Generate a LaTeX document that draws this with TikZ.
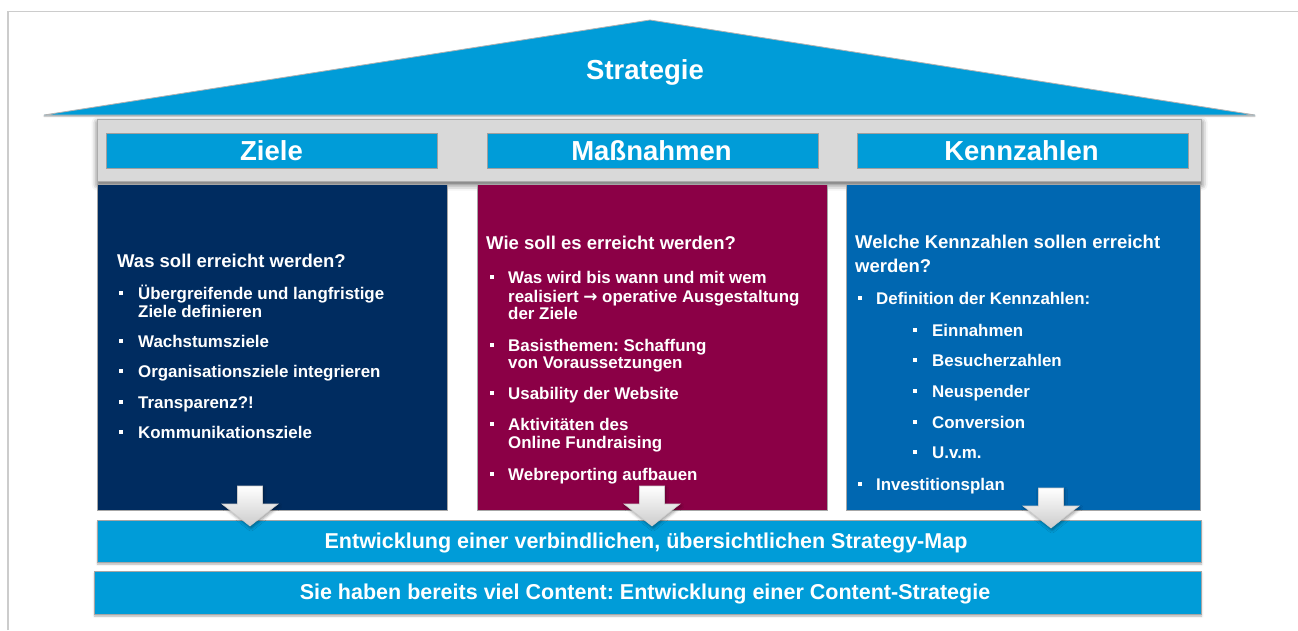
\documentclass[tikz,border=0pt]{standalone}
\usepackage{fontspec}
\setmainfont{Liberation Sans}
\newfontfamily\arrfont{DejaVu Sans}
\usetikzlibrary{shadows.blur}
\frenchspacing
\definecolor{lblue}{RGB}{0,156,216}
\definecolor{navy}{RGB}{0,44,96}
\definecolor{berry}{RGB}{139,0,70}
\definecolor{mblue}{RGB}{0,103,177}
\definecolor{barg}{RGB}{217,217,217}
\newcommand\bitem[5]{%
  \node[bsq] (#1-b) at (#2,#4-6) {};
  \node[txt] (#1) at (#3,#4) {#5};}
\newcommand\tline[4]{\node[txt] (#1) at (#2,#3) {#4};}
\newcommand\hdline[4]{\node[txt,hdr] (#1) at (#2,#3) {#4};}
\newcommand\blockarrow[3]{%
  \coordinate (#1) at (#2,#3);
  \path[arr] (#2-12.5,#3) -- (#2+12.5,#3) -- (#2+12.5,#3+18) -- (#2+28,#3+18)
    -- (#2,#3+40) -- (#2-28,#3+18) -- (#2-12.5,#3+18) -- cycle;}
\begin{document}
\begin{tikzpicture}[x=1pt,y=-1pt,
  txt/.style={anchor=base west,inner sep=0pt,text=white,font=\bfseries\fontsize{16.9}{19}\selectfont},
  hdr/.style={font=\bfseries\fontsize{18.5}{21}\selectfont},
  bsq/.style={fill=white,minimum size=4.8pt,inner sep=0pt},
  ttl/.style={anchor=base,inner sep=0pt,text=white,font=\bfseries\fontsize{27.5}{30}\selectfont},
  btxt/.style={anchor=base,inner sep=0pt,text=white,font=\bfseries\fontsize{21.5}{24}\selectfont},
  col/.style={anchor=north west,draw=gray!70,line width=0.8pt,inner sep=0pt},
  hbox/.style={anchor=north west,fill=lblue,draw=gray!75,line width=1pt,inner sep=0pt},
  bar/.style={anchor=north west,fill=lblue,draw=gray!70,line width=1.2pt,inner sep=0pt,
    blur shadow={shadow xshift=0pt,shadow yshift=-1.5pt,shadow blur radius=2pt,shadow opacity=30}},
  arr/.style={top color=white,bottom color=gray!40,draw=gray!40,line width=0.6pt,
    blur shadow={shadow xshift=1pt,shadow yshift=-2pt,shadow blur radius=3pt,shadow opacity=40}}]
\useasboundingbox (0,0) rectangle (1298,630);
% frame
\draw[gray!40,line width=1.6pt] (8,630) -- (8,11.5) -- (1298,11.5);
% roof
\path[fill=lblue,draw=gray!60,line width=0.8pt,
  blur shadow={shadow xshift=0pt,shadow yshift=-1pt,shadow blur radius=1.5pt,shadow opacity=40}]
  (44,115) -- (650,20) -- (1255,115) -- cycle;
\node[ttl] (strat) at (645,79) {Strategie};
% gray bar
\node[anchor=north west,fill=barg,draw=gray!65,line width=1.2pt,inner sep=0pt,
  minimum width=1104pt,minimum height=62pt,
  blur shadow={shadow xshift=0pt,shadow yshift=-3pt,shadow blur radius=6pt,shadow opacity=65}]
  (gbar) at (97,119) {};
\node[hbox,minimum width=331pt,minimum height=35pt] (hz) at (106,133) {};
\node[hbox,minimum width=331pt,minimum height=35pt] (hm) at (487,133) {};
\node[hbox,minimum width=331pt,minimum height=35pt] (hk) at (857,133) {};
\node[ttl] (tz) at (271.5,160) {Ziele};
\node[ttl] (tm) at (651.5,160) {Maßnahmen};
\node[ttl] (tk) at (1021.5,160) {Kennzahlen};
% columns
\node[col,fill=navy,minimum width=350pt,minimum height=326pt] (cz) at (97,184) {};
\node[col,fill=berry,minimum width=350pt,minimum height=326pt] (cm) at (477,184) {};
\node[col,fill=mblue,minimum width=354pt,minimum height=326pt] (ck) at (846,184) {};
% column 1 text
\hdline{z0}{117}{267}{Was soll erreicht werden?}
\bitem{z1}{121}{138}{299}{Übergreifende und langfristige}
\tline{z1a}{138}{317}{Ziele definieren}
\bitem{z2}{121}{138}{347}{Wachstumsziele}
\bitem{z3}{121}{138}{377}{Organisationsziele integrieren}
\bitem{z4}{121}{138}{408}{Transparenz?!}
\bitem{z5}{121}{138}{438}{Kommunikationsziele}
% column 2 text
\hdline{m0}{486}{249}{Wie soll es erreicht werden?}
\bitem{m1}{492}{508}{283}{Was wird bis wann und mit wem}
\tline{m1a}{508}{302}{realisiert {\arrfont\bfseries →} operative Ausgestaltung}
\tline{m1b}{508}{319}{der Ziele}
\bitem{m2}{492}{508}{351}{Basisthemen: Schaffung}
\tline{m2a}{508}{368}{von Voraussetzungen}
\bitem{m3}{492}{508}{399}{Usability der Website}
\bitem{m4}{492}{508}{430}{Aktivitäten des}
\tline{m4a}{508}{448}{Online Fundraising}
\bitem{m5}{492}{508}{480}{Webreporting aufbauen}
% column 3 text
\hdline{k0}{855}{248}{Welche Kennzahlen sollen erreicht}
\hdline{k0a}{855}{272}{werden?}
\bitem{k1}{860}{876}{304}{Definition der Kennzahlen:}
\bitem{k2}{915}{932}{336}{Einnahmen}
\bitem{k3}{915}{932}{366}{Besucherzahlen}
\bitem{k4}{915}{932}{397}{Neuspender}
\bitem{k5}{915}{932}{428}{Conversion}
\bitem{k6}{915}{932}{458}{U.v.m.}
\bitem{k7}{860}{876}{490}{Investitionsplan}
% bottom bars
\node[bar,minimum width=1104pt,minimum height=42pt] (b1) at (97,520) {};
\node[bar,minimum width=1107pt,minimum height=43pt] (b2) at (94,571) {};
\node[btxt] (b1t) at (646,548) {Entwicklung einer verbindlichen, übersichtlichen Strategy-Map};
\node[btxt] (b2t) at (645,599) {Sie haben bereits viel Content: Entwicklung einer Content-Strategie};
% arrows
\blockarrow{az}{250}{486}
\blockarrow{am}{652}{486}
\blockarrow{ak}{1051}{488}
\end{tikzpicture}
\end{document}
